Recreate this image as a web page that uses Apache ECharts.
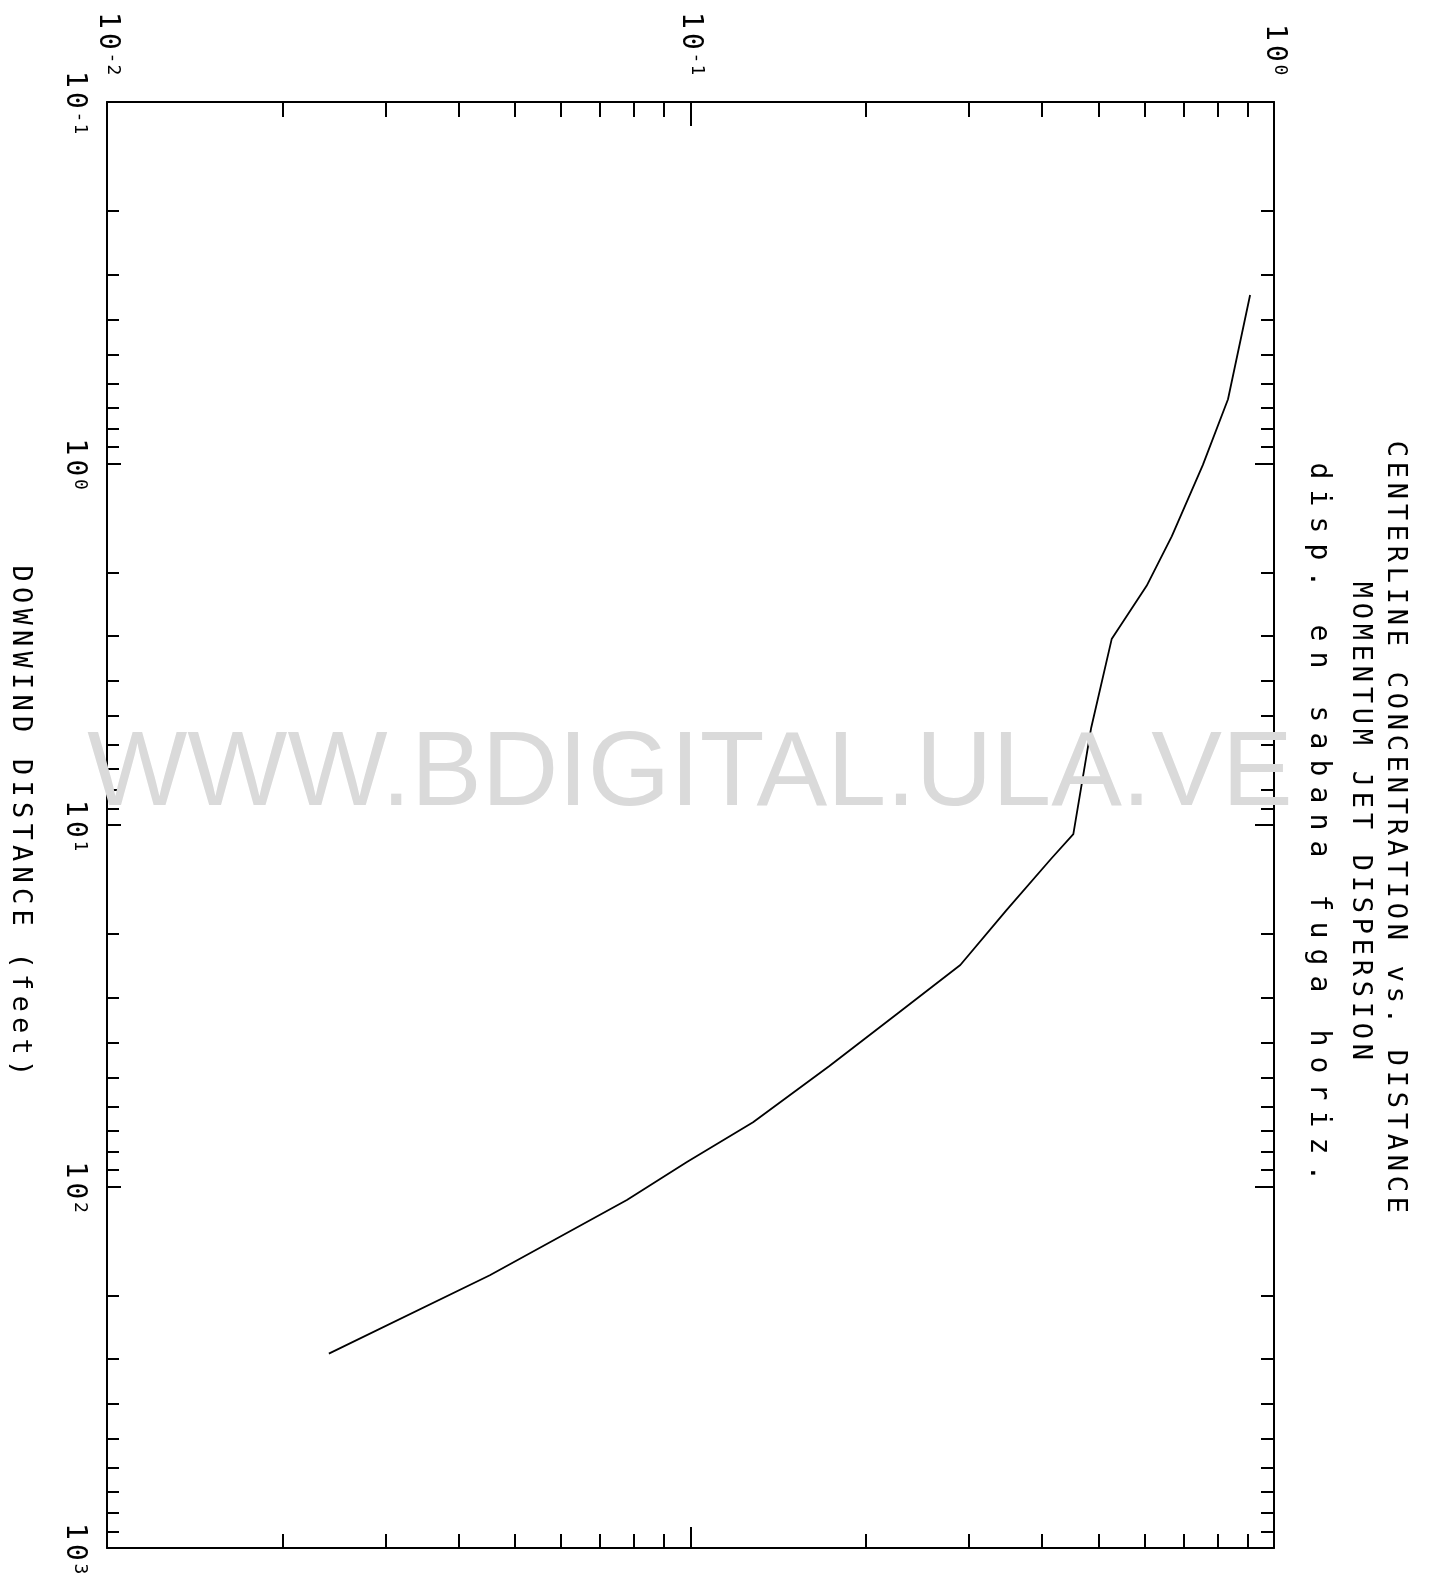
<!DOCTYPE html>
<html>
<head>
<meta charset="utf-8">
<script src="https://cdn.jsdelivr.net/npm/echarts@6/dist/echarts.min.js"></script>
<style>
  html, body { margin: 0; padding: 0; background: #fff; }
  #chart { width: 1432px; height: 1585px; }
</style>
</head>
<body>
<div id="chart"></div>
<script>
// Centerline concentration against downwind distance (plot is drawn turned on its side:
// distance runs down the page, concentration runs across it).
const distanceFt = [0.342, 0.664, 1.01, 1.59, 2.18, 3.06, 5.39, 10.6, 12.4, 17.2, 24.4, 33.1, 46.4, 66.4, 85.5, 109, 176, 290];
const concentration = [0.910, 0.834, 0.755, 0.668, 0.605, 0.527, 0.486, 0.453, 0.415, 0.348, 0.290, 0.227, 0.173, 0.128, 0.0986, 0.0778, 0.0453, 0.0240];

const concMajorTicks = [0.01, 0.1, 1];
const concMinorTicks = [0.02, 0.03, 0.04, 0.05, 0.06, 0.07, 0.08, 0.09,
                        0.2, 0.3, 0.4, 0.5, 0.6, 0.7, 0.8, 0.9];
const distMajorTicks = [0.1, 1, 10, 100, 1000];
const distMinorTicks = [0.2, 0.3, 0.4, 0.5, 0.6, 0.7, 0.8, 0.9,
                        2, 3, 4, 5, 6, 7, 8, 9,
                        20, 30, 40, 50, 60, 70, 80, 90,
                        200, 300, 400, 500, 600, 700, 800, 900];

const titleLines = [
  'CENTERLINE CONCENTRATION vs. DISTANCE',
  'MOMENTUM JET DISPERSION',
  'disp. en sabana fuga horiz.'
];
const distanceTitle = 'DOWNWIND DISTANCE (feet)';
const watermark = 'WWW.BDIGITAL.ULA.VE';

const MONO = 'DejaVu Sans Mono';

// Plotter-style text: every character sits in a fixed-width cell.
function cells(str, cls) {
  return str.split('').map(function (c) { return '{' + cls + '|' + c + '}'; }).join('');
}
function powLabel(v) {
  const e = Math.round(Math.log10(v));
  return cells('10', 'm') + cells(String(e), 'e');
}
const powRich = {
  m: { fontFamily: MONO, fontSize: 28, width: 21, align: 'center', lineHeight: 30, color: '#000' },
  e: { fontFamily: MONO, fontSize: 18, width: 12, align: 'center', verticalAlign: 'top', lineHeight: 18, color: '#000' }
};

const frameLine = { show: true, lineStyle: { color: '#000', width: 2 } };
const tickStyle = { color: '#000', width: 2 };

function concAxis(position, ticks, len, withLine, withLabel) {
  return {
    type: 'log', logBase: 10, min: 0.01, max: 1, position: position,
    axisLine: withLine ? frameLine : { show: false },
    axisTick: { show: true, inside: true, length: len, lineStyle: tickStyle, customValues: ticks },
    axisLabel: withLabel ? {
      show: true, rotate: 90, margin: 26, customValues: ticks, formatter: powLabel, rich: powRich,
      showMinLabel: true, showMaxLabel: true, hideOverlap: false
    } : { show: false },
    splitLine: { show: false },
    minorTick: { show: false }, minorSplitLine: { show: false }
  };
}
function distAxis(position, ticks, len, withLine, withLabel) {
  return {
    type: 'log', logBase: 10, min: 0.1, max: 1000, inverse: true, position: position,
    axisLine: withLine ? frameLine : { show: false },
    axisTick: { show: true, inside: true, length: len, lineStyle: tickStyle, customValues: ticks },
    axisLabel: withLabel ? {
      show: true, rotate: -90, margin: 18, customValues: ticks, formatter: powLabel, rich: powRich,
      showMinLabel: true, showMaxLabel: true, hideOverlap: false
    } : { show: false },
    splitLine: { show: false },
    minorTick: { show: false }, minorSplitLine: { show: false }
  };
}

function sideText(str, x, y, size, cell) {
  return {
    type: 'text', x: x, y: y, rotation: -Math.PI / 2,
    style: {
      text: cells(str, 't'),
      rich: { t: { fontFamily: MONO, fontSize: size, width: cell, align: 'center', lineHeight: size + 2, color: '#000' } },
      align: 'center', verticalAlign: 'middle'
    }
  };
}

const chart = echarts.init(document.getElementById('chart'), null, { renderer: 'canvas' });
chart.setOption({
  backgroundColor: '#fff',
  animation: false,
  grid: { left: 107, right: 158, top: 102, bottom: 37, containLabel: false, outerBoundsMode: 'none' },
  xAxis: [
    concAxis('top', concMajorTicks, 24, true, true),
    concAxis('top', concMinorTicks, 15, false, false),
    concAxis('bottom', concMajorTicks, 21, true, false),
    concAxis('bottom', concMinorTicks, 14, false, false)
  ],
  yAxis: [
    distAxis('left', distMajorTicks, 14, true, true),
    distAxis('left', distMinorTicks, 12, false, false),
    distAxis('right', distMajorTicks, 19, true, false),
    distAxis('right', distMinorTicks, 13, false, false)
  ],
  series: [{
    type: 'line',
    xAxisIndex: 0, yAxisIndex: 0,
    data: distanceFt.map(function (d, i) { return [concentration[i], d]; }),
    showSymbol: false, symbol: 'none',
    lineStyle: { color: '#000', width: 1.8 },
    silent: true
  }],
  graphic: [
    sideText(titleLines[0], 1395, 827, 27, 21),
    sideText(titleLines[1], 1360, 821, 27, 21),
    sideText(titleLines[2], 1318, 822, 28, 27),
    sideText(distanceTitle, 20, 821, 27, 21.5),
    {
      type: 'text', x: 690, y: 776, z: 100,
      style: {
        text: watermark, fontFamily: 'Liberation Sans', fontSize: 106,
        fill: '#dadada', align: 'center', verticalAlign: 'middle'
      }
    }
  ]
});
</script>
</body>
</html>
